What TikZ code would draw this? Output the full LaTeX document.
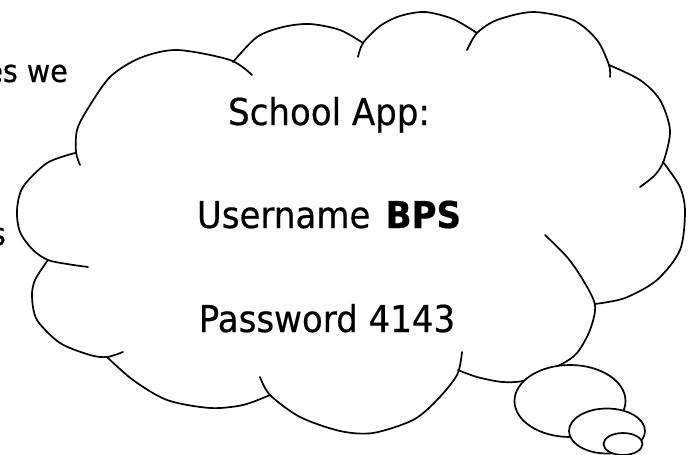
\documentclass[tikz,border=0pt]{standalone}
\usepackage{fontspec}
\setmainfont{DejaVu Sans}[FakeStretch=0.92, FakeBold=0.5]
\usepackage{tikz}

\begin{document}
\begin{tikzpicture}[x=1pt,y=-1pt,
  lobe/.style={line width=1.7pt, line cap=round, line join=round},
  puff/.style={lobe, fill=white},
  say/.style={anchor=base, inner sep=0pt, font=\fontsize{37}{40}\selectfont},
  side/.style={anchor=base east, inner sep=0pt, font=\fontsize{31}{34}\selectfont}]

\useasboundingbox (0,0) rectangle (694,455);

% text left of the cloud (cut by the page edge)
\node[side] (l1) at (68,82) {es we};
\node[side] (l2) at (6,245) {s};
\node[side] (l3) at (3,334) {.};

% the lobes of the cloud, clockwise from the upper left
\draw[lobe] plot[smooth] coordinates {(80,165) (76,152) (77,130) (87,110) (110,77) (140,58) (177,50) (230,60) (252,75)};
\draw[lobe] plot[smooth] coordinates {(233,62) (257,37) (283,27) (310,24) (340,30) (363,43)};
\draw[lobe] plot[smooth] coordinates {(358,57) (363,43) (380,26) (400,16) (425,12) (453,19) (477,33)};
\draw[lobe] plot[smooth] coordinates {(467,50) (477,33) (497,20) (533,12) (573,20) (597,40) (609,65) (610,77)};
\draw[lobe] plot[smooth] coordinates {(609,65) (640,80) (660,100) (670,130) (664,160) (655,175) (640,187)};
\draw[lobe] plot[smooth] coordinates {(663,162) (680,187) (685,212) (680,250) (657,280) (625,298) (595,304)};
\draw[lobe] plot[smooth] coordinates {(545,235) (567,257) (583,280) (595,305) (590,330) (577,353) (560,365) (527,380) (503,382) (477,377) (458,370)};
\draw[lobe] plot[smooth] coordinates {(260,377) (270,395) (300,417) (340,431) (373,433) (413,420) (437,400) (457,375) (462,352)};
\draw[lobe] plot[smooth] coordinates {(107,357) (133,380) (167,400) (210,408) (243,405) (270,395)};
\draw[lobe] plot[smooth] coordinates {(48,260) (35,280) (32,297) (37,320) (60,343) (90,355) (107,357) (123,352)};
\draw[lobe] plot[smooth] coordinates {(75,153) (47,163) (23,187) (17,210) (20,232) (33,250) (48,260) (67,264) (88,267)};

% thought bubbles
\draw[puff] (570,401) ellipse (55.5 and 36);
\draw[puff] (607,431) ellipse (38 and 22.5);
\draw[puff] (623,444) ellipse (19.5 and 11);

% what the cloud says
\node[say] (app) at (329,125) {School App:};
\node[say] (user) at (329,228) {Username\hspace{0.12em} {\bfseries BPS}};
\node[say] (pass) at (327,332) {Password 4143};
\end{tikzpicture}
\end{document}
